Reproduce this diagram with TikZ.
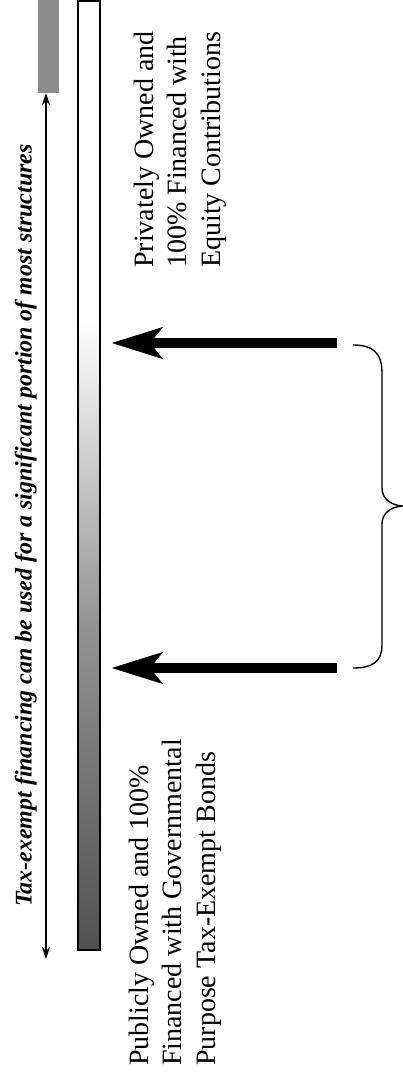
\documentclass[tikz,border=0pt]{standalone}
\usepackage{fontspec}
\setmainfont{Liberation Serif}
\usetikzlibrary{arrows.meta}
\tikzset{
  thinarrow/.style={line width=1.3pt, {Stealth[length=12pt,width=8pt]}-{Stealth[length=12pt,width=8pt]}},
  fatarrow/.style={line width=10pt, -{Stealth[length=51pt,width=32pt,inset=13pt,line width=0.5pt]}},
  bodytext/.style={rotate=90, anchor=west, align=left, inner sep=0pt, font=\fontsize{28}{33.5}\selectfont},
  italiclabel/.style={rotate=90, anchor=base, inner sep=0pt, font=\fontsize{23.9}{29}\selectfont\bfseries\itshape},
  bracepath/.style={line width=1.4pt}
}
\begin{document}
\begin{tikzpicture}[x=1pt,y=-1pt]
\useasboundingbox (0,0) rectangle (402,1078);
% top gray box
\fill[black!45] (38,0) rectangle (59,93);
% gradient bar
\fill[white] (78,1) rectangle (100,322);
\shade[top color=white, bottom color=black!42] (78,320) rectangle (100,622);
\shade[top color=black!42, bottom color=black!68] (78,620) rectangle (100,950);
\draw[line width=1.3pt] (78,1) rectangle (100,950);
% thin double arrow
\coordinate (ttop) at (46,93);
\coordinate (tbot) at (46,959);
\draw[thinarrow] (ttop) -- (tbot);
\node[italiclabel] (taxlabel) at (31.5,525.5) {Tax-exempt financing can be used for a significant portion of most structures};
% thick arrows
\coordinate (a1s) at (337,343);
\coordinate (a1e) at (112,343);
\coordinate (a2s) at (337,668);
\coordinate (a2e) at (112,668);
\draw[fatarrow] (a1s) -- (a1e);
\draw[fatarrow] (a2s) -- (a2e);
% brace
\draw[bracepath] (353,345) .. controls (372,345) and (382,352) .. (382,373) -- (382,488) .. controls (382,499) and (391,505) .. (402,506) .. controls (391,507) and (382,513) .. (382,524) -- (382,645) .. controls (382,662) and (372,668) .. (353,668);
% text blocks
\node[bodytext] (priv) at (180,268) {Privately Owned and\\100\% Financed with\\Equity Contributions};
\node[bodytext] (pub) at (175,1066) {Publicly Owned and 100\%\\Financed with Governmental\\Purpose Tax-Exempt Bonds};
\end{tikzpicture}
\end{document}
